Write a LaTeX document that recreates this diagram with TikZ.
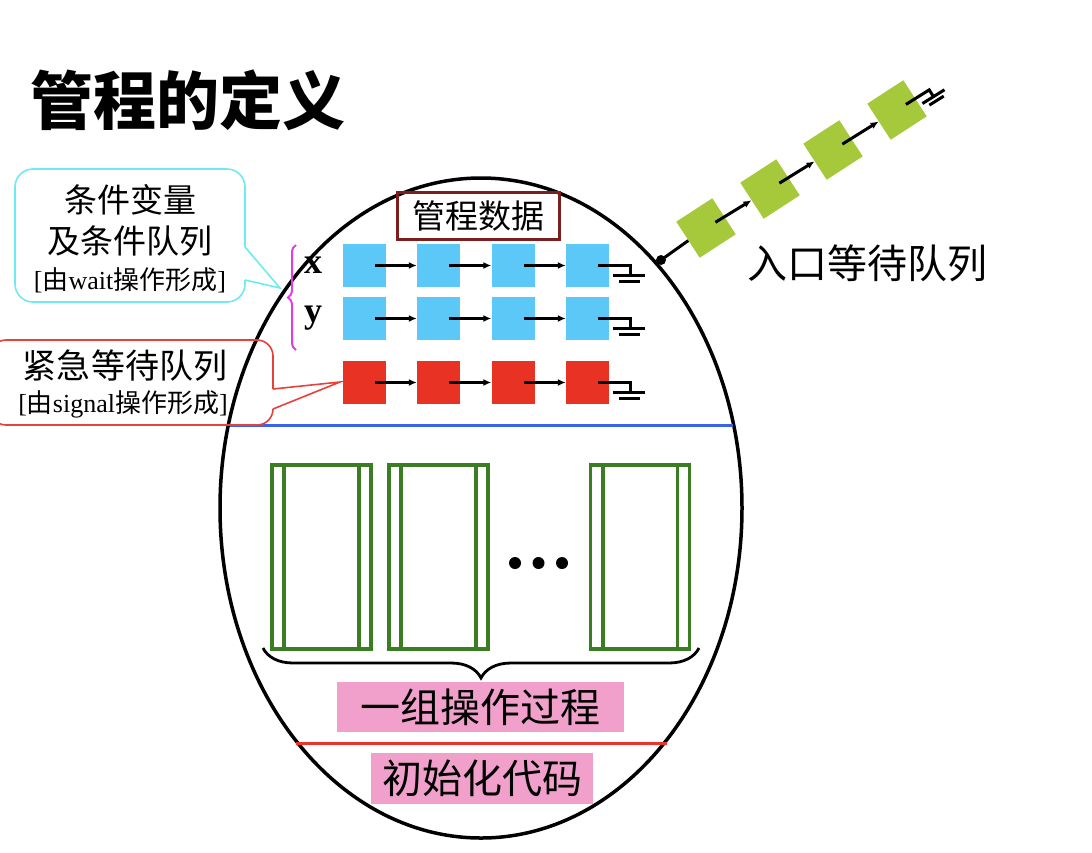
\documentclass[tikz,border=0pt]{standalone}
\usepackage{fontspec}
\setmainfont{Liberation Serif}
\newfontfamily\cjk{Noto Sans CJK SC}
\usetikzlibrary{arrows.meta,decorations.pathreplacing,calc}
\newcommand\zh[1]{{\cjk #1}}
\newcommand\fsz[1]{\fontsize{#1}{#1}\selectfont}
\definecolor{qblue}{HTML}{5BC8F7}
\definecolor{qred}{HTML}{E83224}
\definecolor{qgreen}{HTML}{A6C93C}
\definecolor{pgreen}{HTML}{3B7D23}
\definecolor{opink}{HTML}{F0A0CB}
\definecolor{bmag}{HTML}{E43BE8}
\definecolor{ccyan}{HTML}{6EEAF2}
\definecolor{cred}{HTML}{E8413A}
\definecolor{sepblue}{HTML}{3A63E8}
\definecolor{sepred}{HTML}{E8352B}
\definecolor{dred}{HTML}{7A1E1E}

\begin{document}
\begin{tikzpicture}[x=1pt,y=-1pt,
  txt/.style={inner sep=0pt, anchor=center},
  sq/.style={minimum size=43pt, inner sep=0pt},
  bluesq/.style={sq, fill=qblue},
  redsq/.style={sq, fill=qred},
  greensq/.style={sq, fill=qgreen, rotate=33},
  link/.style={line width=3pt, -{Latex[length=8pt,width=7pt]}},
  gnd/.style={line width=3pt},
  proc/.style={draw=pgreen, line width=3.8pt, minimum width=99pt, minimum height=184pt, inner sep=0pt},
  pline/.style={draw=pgreen, line width=3.8pt},
  label/.style={fill=opink, inner sep=0pt, minimum height=50pt},
]
\useasboundingbox (0,0) rectangle (1092,852);

% title
\node[txt, anchor=west] (title) at (30,100) {\cjk\bfseries\fsz{63}管程的定义};

% the monitor outline
\draw[line width=3.5pt] (481,508) ellipse [x radius=261, y radius=330];
\coordinate (ent) at (661,260);

% monitor data
\node[draw=dred, line width=3pt, minimum width=162pt, minimum height=47pt, inner sep=0pt] (data) at (478,215.5) {\cjk\fsz{33}管程数据};

% condition queues x, y and the urgent queue
\foreach \r/\y/\s in {a/265.5/bluesq, b/318.5/bluesq, c/382.5/redsq}{
  \foreach \i/\x in {1/364.5, 2/438.5, 3/513, 4/587.5}
    \node[\s] (\r\i) at (\x,\y) {};
  \foreach \i/\j in {1/2, 2/3, 3/4}
    \draw[link] ([xshift=10.5pt]\r\i.center) -- (\r\j.west);
  \draw[gnd] ([xshift=10.5pt]\r4.center) -- ++(32,0) -- ++(0,10);
  \draw[gnd] ([xshift=10.5pt]\r4.center) ++(15,10) -- ++(32,0);
  \draw[gnd] ([xshift=10.5pt]\r4.center) ++(21,16) -- ++(21,0);
}
\node[txt] (xlab) at (313,265) {\fsz{36}\bfseries x};
\node[txt] (ylab) at (313,318) {\fsz{36}\bfseries y};
\draw[bmag, line width=2pt, decorate, decoration={brace, amplitude=8pt}] (296,350) -- (296,245);

% separator between data and procedures
\draw[sepblue, line width=3pt] (230,425) -- (733,425);

% procedures
\node[proc] (p1) at (321.5,557) {};
\node[proc] (p2) at (438.5,557) {};
\node[proc] (p3) at (640,557) {};
\foreach \p in {p1,p2,p3}{
  \draw[pline] ([xshift=14pt]\p.north west) -- ([xshift=14pt]\p.south west);
  \draw[pline] ([xshift=-14pt]\p.north east) -- ([xshift=-14pt]\p.south east);
}
\foreach \x in {515,538.5,562}
  \fill (\x,563) circle (6);
\draw[line width=2.8pt, decorate, decoration={brace, amplitude=30pt}] (699,648) -- (263,648);

\node[label, minimum width=287pt] (ops) at (480.5,707) {\cjk\fsz{40}一组操作过程};
\draw[sepred, line width=3pt] (296,743) -- (667,743);
\node[label, minimum width=222pt, minimum height=51pt] (init) at (482,778.5) {\cjk\fsz{40}初始化代码};

% entry queue
\node[greensq] (e1) at (706,228) {};
\node[greensq] (e2) at (770,189) {};
\node[greensq] (e3) at (833,150) {};
\node[greensq] (e4) at (897,110) {};
\draw[line width=3pt] (ent) -- (e1);
\fill (ent) circle (5);
\draw[link] ($(e1.center)!11pt!(e2.center)$) -- (e2);
\draw[link] ($(e2.center)!11pt!(e3.center)$) -- (e3);
\draw[link] ($(e3.center)!11pt!(e4.center)$) -- (e4);
\begin{scope}[shift={(e4.center)}, rotate=32]
  \draw[gnd] (10.5,0) -- (38,0) -- (38,8);
  \draw[gnd] (25,8) -- (51,8);
  \draw[gnd] (30,13) -- (47,13);
\end{scope}
\node[txt] (entlab) at (867,263) {\cjk\fsz{40}入口等待队列};

% callout: condition variables
\draw[ccyan, line width=1.6pt, rounded corners=18pt]
  (245,247) -- (245,169) -- (15,169) -- (15,302) -- (245,302) -- (245,280);
\draw[ccyan, line width=1.6pt] (245,247) -- (280,288) -- (245,280);
\node[txt] (c1) at (130,200) {\cjk\fsz{33}条件变量};
\node[txt] (c2) at (130,241) {\cjk\fsz{33}及条件队列};
\node[txt] (c3) at (130,280) {\fsz{26}[\zh{由}wait\zh{操作形成}]};

% callout: urgent queue
\draw[cred, line width=1.6pt, rounded corners=16pt]
  (273,389) -- (273,340) -- (-10,340) -- (-10,425) -- (273,425) -- (273,409);
\draw[cred, line width=1.6pt] (273,389) -- (340,382) -- (273,409);
\node[txt] (u1) at (125,366) {\cjk\fsz{34}紧急等待队列};
\node[txt] (u2) at (123,404) {\fsz{26}[\zh{由}signal\zh{操作形成}]};
\end{tikzpicture}
\end{document}
